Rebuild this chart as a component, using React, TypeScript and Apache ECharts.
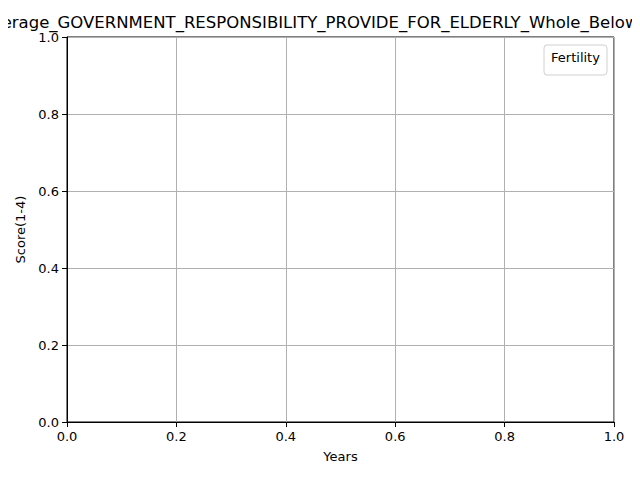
import { useEffect, useRef } from 'react'
import * as echarts from 'echarts'

const chartTitle = 'Average_GOVERNMENT_RESPONSIBILITY_PROVIDE_FOR_ELDERLY_Whole_Below_Average'
const legendTitle = 'Fertility'
const seriesValues: [number, number][] = []

export default function App() {
  const chartRef = useRef<HTMLDivElement>(null)

  useEffect(() => {
    if (!chartRef.current) return
    const chart = echarts.init(chartRef.current, null, { renderer: 'svg' })
    const font = 'DejaVu Sans'
    const axisCommon = {
      type: 'value' as const,
      min: 0,
      max: 1,
      interval: 0.2,
      nameLocation: 'middle' as const,
      nameTextStyle: { color: '#000', fontFamily: font, fontSize: 13 },
      axisLine: { show: true, lineStyle: { color: '#000', width: 1 } },
      axisTick: { show: true, inside: false, length: 5, lineStyle: { color: '#000' } },
      axisLabel: { color: '#000', fontFamily: font, fontSize: 13, formatter: (v: number) => v.toFixed(1) },
      splitLine: { show: true, lineStyle: { color: '#b0b0b0', width: 1 } },
    }
    chart.setOption({
      animation: false,
      backgroundColor: '#fff',
      grid: { left: 67, right: 26, top: 37, bottom: 58, show: true, borderColor: '#000', borderWidth: 1 },
      xAxis: { ...axisCommon, name: 'Years', nameGap: 28, axisLabel: { ...axisCommon.axisLabel, margin: 8 } },
      yAxis: { ...axisCommon, name: 'Score(1-4)', nameGap: 40, axisLabel: { ...axisCommon.axisLabel, margin: 8 } },
      series: [{ type: 'line', data: seriesValues }],
      graphic: [
        {
          type: 'text',
          x: 348,
          y: 22,
          style: { text: chartTitle, fontFamily: font, fontSize: 16.5, fill: '#000', align: 'center', verticalAlign: 'middle' },
        },
        {
          type: 'rect',
          shape: { x: 544, y: 45, width: 63, height: 30, r: 3 },
          style: { fill: '#fff', stroke: '#d0d0d0', lineWidth: 1 },
        },
        {
          type: 'text',
          x: 575.5,
          y: 57,
          style: { text: legendTitle, fontFamily: font, fontSize: 13, fill: '#000', align: 'center', verticalAlign: 'middle' },
        },
      ],
    })
    return () => chart.dispose()
  }, [])

  return <div ref={chartRef} style={{ width: 640, height: 480, margin: -8 }} />
}
